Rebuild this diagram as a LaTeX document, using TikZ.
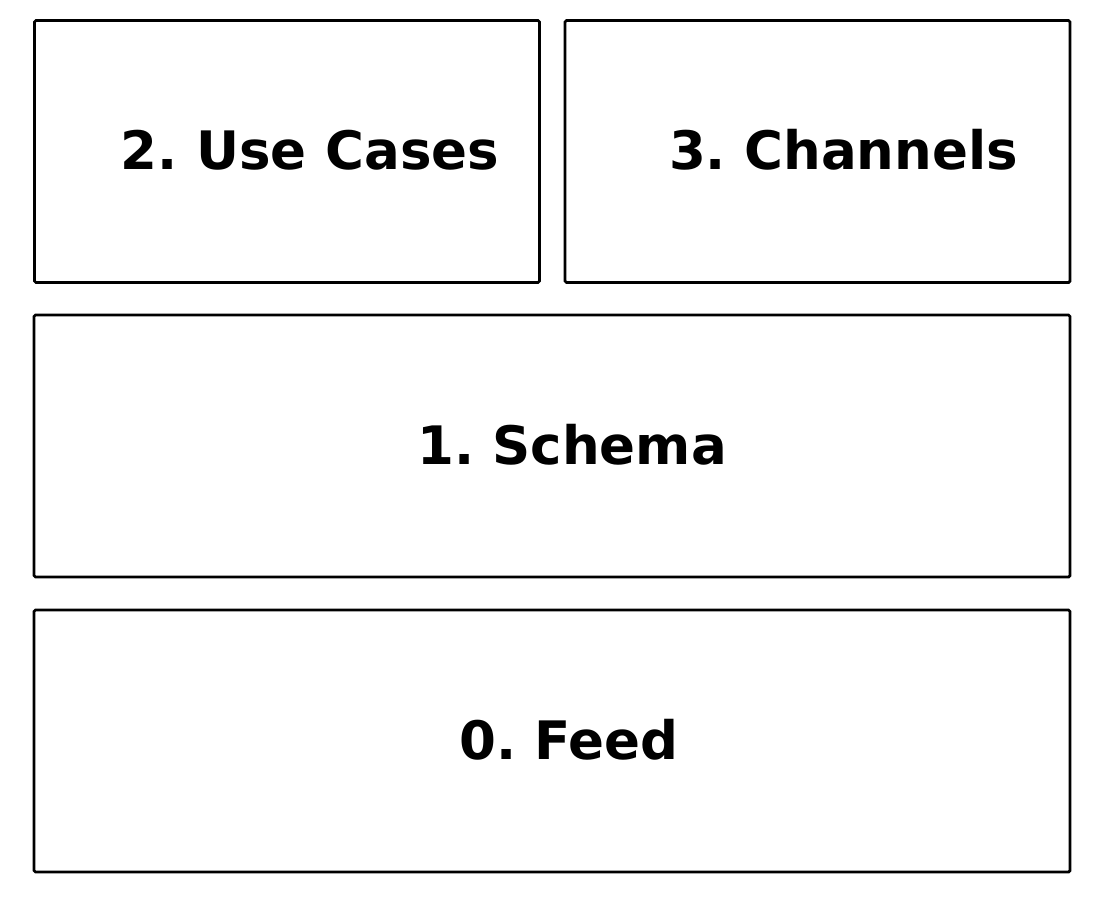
\documentclass[tikz,border=0pt]{standalone}
\usepackage{fontspec}
\setmainfont{DejaVu Sans}
\usetikzlibrary{positioning}
\frenchspacing
\begin{document}
\begin{tikzpicture}[
  x=1pt, y=-1pt,
  block/.style={draw, line width=2.8pt, rounded corners=1.5pt, minimum height=262pt, inner sep=0pt},
  halfblock/.style={block, minimum width=505pt},
  fullblock/.style={block, minimum width=1036pt},
  label/.style={inner sep=0pt, font=\fontsize{53}{60}\selectfont\bfseries}
]
\useasboundingbox (0,0) rectangle (1097,911);
\node[halfblock] (usecases) at (287,151.5) {};
\node[halfblock] (channels) at (817.5,151.5) {};
\node[fullblock] (schema) at (552,446) {};
\node[fullblock] (feed) at (552,741) {};
\node[label] (usecasestxt) at ([xshift=23pt,yshift=1.5pt]usecases.center) {2. Use Cases};
\node[label] (channelstxt) at ([xshift=26pt,yshift=1.5pt]channels.center) {3. Channels};
\node[label] (schematxt) at ([xshift=20pt,yshift=1.5pt]schema.center) {1. Schema};
\node[label] (feedtxt) at ([xshift=17pt,yshift=1.5pt]feed.center) {0. Feed};
\end{tikzpicture}
\end{document}
